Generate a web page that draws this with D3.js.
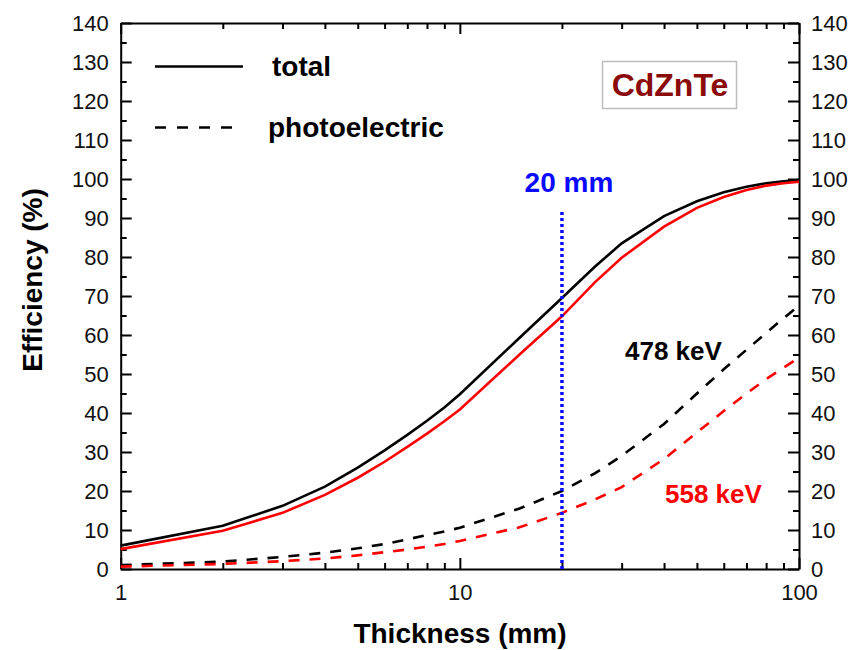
<!DOCTYPE html>
<html><head><meta charset="utf-8">
<script src="https://cdn.jsdelivr.net/npm/d3@7"></script>
<style>body{margin:0;background:#fff;} svg{display:block;}</style>
</head><body>
<svg id="chart" width="851" height="650"></svg>
<script>
// ---- data ----
const thickness = [1,2,3,4,5,6,7,8,9,10,15,20,25,30,40,50,60,70,80,90,100];
const total478 = [6.0,11.1,16.2,21.1,26.0,30.4,34.4,38.0,41.4,44.8,59.3,69.5,77.5,83.5,90.5,94.3,96.6,98.0,98.9,99.4,99.7];
const total558 = [5.1,9.8,14.4,19.0,23.4,27.5,31.3,34.7,37.9,40.9,55.0,64.8,73.5,79.8,87.8,92.6,95.4,97.2,98.3,98.9,99.3];
const photo478 = [1.0,1.9,3.1,4.2,5.3,6.4,7.6,8.7,9.6,10.6,15.5,20.0,24.5,29.0,37.2,45.0,51.2,56.2,60.5,64.3,67.5];
const photo558 = [0.6,1.3,2.0,2.7,3.5,4.3,5.0,5.7,6.4,7.2,10.7,14.4,17.8,21.0,28.2,35.0,40.5,45.0,48.7,51.6,54.2];
const yTicks = [0,10,20,30,40,50,60,70,80,90,100,110,120,130,140];
const yMinor = [5,15,25,35,45,55,65,75,85,95,105,115,125,135];
const xTicks = [1,10,100];
const xMinor = [2,3,4,5,6,7,8,9,20,30,40,50,60,70,80,90];
const markerThickness = 20;
const markerTop = 92;

const svg = d3.select("#chart");
const L = 120.7, R = 799, T = 23, B = 569;
const x = d3.scaleLog().domain([1,100]).range([L,R]);
const y = d3.scaleLinear().domain([0,140]).range([B,T]);
const FONT = "'Liberation Sans', Arial, sans-serif";

function styleAxis(g, withDomain){
  g.selectAll("line").attr("stroke","#000").attr("stroke-width",2);
  g.select(".domain").attr("stroke", withDomain ? "#000" : "none").attr("stroke-width",2);
  g.selectAll("text").attr("font-family",FONT).attr("font-size",22).attr("fill","#111");
}
// left
svg.append("g").attr("transform",`translate(${L},0)`)
  .call(d3.axisLeft(y).tickValues(yTicks).tickSize(-11).tickSizeOuter(0).tickPadding(12))
  .call(g=>styleAxis(g,true));
svg.append("g").attr("transform",`translate(${L},0)`)
  .call(d3.axisLeft(y).tickValues(yMinor).tickSize(-6).tickFormat(""))
  .call(g=>styleAxis(g,false));
// right
svg.append("g").attr("transform",`translate(${R},0)`)
  .call(d3.axisRight(y).tickValues(yTicks).tickSize(-11).tickSizeOuter(0).tickPadding(12))
  .call(g=>styleAxis(g,true));
svg.append("g").attr("transform",`translate(${R},0)`)
  .call(d3.axisRight(y).tickValues(yMinor).tickSize(-6).tickFormat(""))
  .call(g=>styleAxis(g,false));
// bottom
svg.append("g").attr("transform",`translate(0,${B})`)
  .call(d3.axisBottom(x).tickValues(xTicks).tickFormat(d3.format("d")).tickSize(-11).tickSizeOuter(0).tickPadding(15))
  .call(g=>styleAxis(g,true));
svg.append("g").attr("transform",`translate(0,${B})`)
  .call(d3.axisBottom(x).tickValues(xMinor).tickSize(-6).tickFormat(""))
  .call(g=>styleAxis(g,false));
// top
svg.append("g").attr("transform",`translate(0,${T})`)
  .call(d3.axisTop(x).tickValues(xTicks).tickFormat("").tickSize(-11).tickSizeOuter(0))
  .call(g=>styleAxis(g,true));
svg.append("g").attr("transform",`translate(0,${T})`)
  .call(d3.axisTop(x).tickValues(xMinor).tickSize(-6).tickFormat(""))
  .call(g=>styleAxis(g,false));

// curves
const line = vals => d3.line().x((d,i)=>x(thickness[i])).y(d=>y(d))(vals);
const series = [
  {v: total478, c:"#000", dash:null},
  {v: total558, c:"#ff0000", dash:null},
  {v: photo478, c:"#000", dash:"11,10"},
  {v: photo558, c:"#ff0000", dash:"11,10"}
];
series.forEach(s=>{
  svg.append("path").attr("d",line(s.v)).attr("fill","none")
    .attr("stroke",s.c).attr("stroke-width",2.6)
    .attr("stroke-dasharray",s.dash);
});

// 20 mm marker
svg.append("line").attr("x1",x(markerThickness)).attr("x2",x(markerThickness))
  .attr("y1",y(0)).attr("y2",y(markerTop))
  .attr("stroke","#0a0aff").attr("stroke-width",3.5).attr("stroke-dasharray","3,3");
svg.append("text").attr("x",x(markerThickness)+7).attr("y",192).attr("text-anchor","middle")
  .attr("font-family",FONT).attr("font-weight","bold").attr("font-size",28)
  .attr("fill","#0a0aff").text("20 mm");

// energy labels
svg.append("text").attr("x",625).attr("y",360).attr("font-family",FONT).attr("font-weight","bold")
  .attr("font-size",26).attr("fill","#000").text("478 keV");
svg.append("text").attr("x",665).attr("y",503).attr("font-family",FONT).attr("font-weight","bold")
  .attr("font-size",26).attr("fill","#ff0000").text("558 keV");

// legend
svg.append("line").attr("x1",155).attr("x2",243).attr("y1",66.5).attr("y2",66.5)
  .attr("stroke","#000").attr("stroke-width",2.6);
svg.append("text").attr("x",272).attr("y",76).attr("font-family",FONT).attr("font-weight","bold")
  .attr("font-size",28).attr("fill","#000").text("total");
svg.append("line").attr("x1",155).attr("x2",243).attr("y1",127.5).attr("y2",127.5)
  .attr("stroke","#000").attr("stroke-width",2.6).attr("stroke-dasharray","11,11");
svg.append("text").attr("x",268).attr("y",137).attr("font-family",FONT).attr("font-weight","bold")
  .attr("font-size",28).attr("fill","#000").text("photoelectric");

// CdZnTe box
svg.append("rect").attr("x",602.5).attr("y",61.5).attr("width",134).attr("height",47)
  .attr("fill","#fff").attr("stroke","#bdbdbd").attr("stroke-width",1.5);
svg.append("text").attr("x",670).attr("y",96).attr("text-anchor","middle")
  .attr("font-family",FONT).attr("font-weight","bold").attr("font-size",32)
  .attr("fill","#8b0a0a").text("CdZnTe");

// axis titles
svg.append("text").attr("x",460).attr("y",643).attr("text-anchor","middle")
  .attr("font-family",FONT).attr("font-weight","bold").attr("font-size",28)
  .attr("fill","#000").text("Thickness (mm)");
svg.append("text").attr("transform","translate(42,280) rotate(-90)").attr("text-anchor","middle")
  .attr("font-family",FONT).attr("font-weight","bold").attr("font-size",28)
  .attr("fill","#000").text("Efficiency (%)");
</script>
</body></html>
